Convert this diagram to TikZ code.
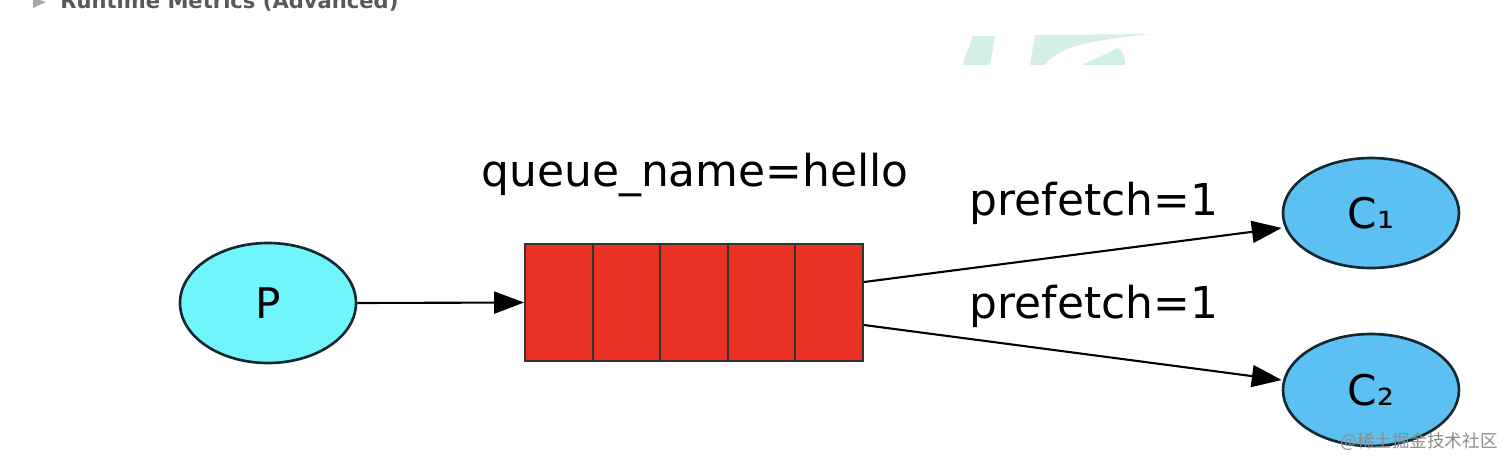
\documentclass[tikz,border=0pt]{standalone}
\usepackage{fontspec}
\setmainfont{DejaVu Sans}
\newfontfamily\cjkfont{Noto Sans CJK SC}
\usetikzlibrary{shapes.geometric,arrows.meta}
\definecolor{pcyan}{RGB}{112,246,250}
\definecolor{cblue}{RGB}{92,192,242}
\definecolor{qred}{RGB}{234,50,36}
\definecolor{edgedark}{RGB}{20,40,50}
\definecolor{wmgreen}{RGB}{212,240,230}
\begin{document}
\begin{tikzpicture}[x=0.02cm,y=-0.02cm,
  ell/.style={ellipse,draw=edgedark,line width=1.5pt,inner sep=0pt},
  cell/.style={rectangle,draw=black!80,fill=qred,line width=1.1pt,minimum width=67.6*0.02cm,minimum height=117*0.02cm,inner sep=0pt},
  conn/.style={line width=1.2pt,-{Triangle[length=17pt,width=12.5pt]}},
  lbl/.style={font=\fontsize{25}{29}\selectfont,inner sep=0pt},
  node font=\fontsize{24}{28}\selectfont]
\useasboundingbox[fill=white] (0,0) rectangle (1512,467);
% screenshot remnants
\fill[gray!70] (33,-2) -- (46,2) -- (33,8) -- cycle;
\node[anchor=base west,inner sep=0pt,text=black!65,font=\bfseries\fontsize{12}{14}\selectfont] (hdr) at (60,8) {Runtime Metrics (Advanced)};
\fill[wmgreen] (962,65) -- (973,36) -- (995,36) -- (990,65) -- cycle;
\fill[wmgreen] (1030,65) -- (1035,35) -- (1150,34) .. controls (1100,40) and (1060,44) .. (1045,65) -- cycle;
\fill[wmgreen] (1082,65) -- (1118,48) .. controls (1124,52) and (1125,58) .. (1125,65) -- cycle;
% nodes
\node[ell,fill=pcyan,minimum width=176*0.02cm,minimum height=120*0.02cm] (P) at (268,303) {P};
\foreach \i in {0,...,4}{
  \node[cell] (q\i) at ({525+33.8+67.6*\i},302.5) {};
}
\node[ell,fill=cblue,minimum width=176*0.02cm,minimum height=110*0.02cm] (C1) at (1371,213) {C₁};
\node[ell,fill=cblue,minimum width=176*0.02cm,minimum height=112*0.02cm] (C2) at (1371,390) {C₂};
\node[lbl] (qn) at (695,175) {queue\_name=hello};
\node[lbl] (pf1) at (1094,203) {prefetch=1};
\node[lbl] (pf2) at (1094,306) {prefetch=1};
% connectors
\draw[conn] (P.east) -- (q0.west);
\draw[conn] (q4.east |- 0,282) -- (C1.west |- 0,228);
\draw[conn] (q4.east |- 0,325) -- (C2.west |- 0,380);
% watermark
\node[anchor=base east,inner sep=0pt,text=black!45,font=\cjkfont\fontsize{10}{12}\selectfont] (wm) at (1498,447) {@稀土掘金技术社区};
\end{tikzpicture}
\end{document}
